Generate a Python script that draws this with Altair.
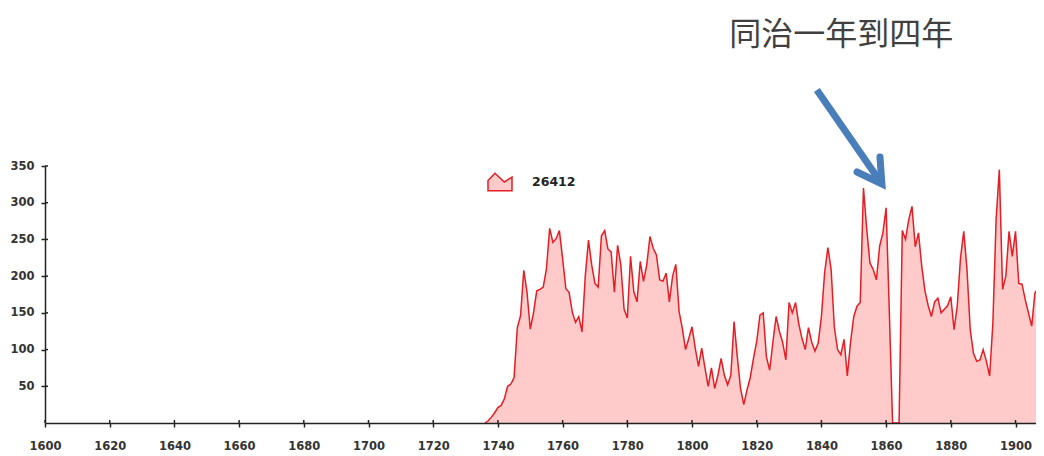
import altair as alt
import pandas as pd

# ---- data ----
years = [
    1736, 1737, 1738, 1739, 1740, 1741, 1742, 1743, 1744, 1745,
    1746, 1747, 1748, 1749, 1750, 1751, 1752, 1753, 1754, 1755,
    1756, 1757, 1758, 1759, 1760, 1761, 1762, 1763, 1764, 1765,
    1766, 1767, 1768, 1769, 1770, 1771, 1772, 1773, 1774, 1775,
    1776, 1777, 1778, 1779, 1780, 1781, 1782, 1783, 1784, 1785,
    1786, 1787, 1788, 1789, 1790, 1791, 1792, 1793, 1794, 1795,
    1796, 1797, 1798, 1799, 1800, 1801, 1802, 1803, 1804, 1805,
    1806, 1807, 1808, 1809, 1810, 1811, 1812, 1813, 1814, 1815,
    1816, 1817, 1818, 1819, 1820, 1821, 1822, 1823, 1824, 1825,
    1826, 1827, 1828, 1829, 1830, 1831, 1832, 1833, 1834, 1835,
    1836, 1837, 1838, 1839, 1840, 1841, 1842, 1843, 1844, 1845,
    1846, 1847, 1848, 1849, 1850, 1851, 1852, 1853, 1854, 1855,
    1856, 1857, 1858, 1859, 1860, 1861, 1862, 1863, 1864, 1865,
    1866, 1867, 1868, 1869, 1870, 1871, 1872, 1873, 1874, 1875,
    1876, 1877, 1878, 1879, 1880, 1881, 1882, 1883, 1884, 1885,
    1886, 1887, 1888, 1889, 1890, 1891, 1892, 1893, 1894, 1895,
    1896, 1897, 1898, 1899, 1900, 1901, 1902, 1903, 1904, 1905,
    1906, 1907, 1908, 1909,
]
counts = [
    0, 3, 8, 14, 21, 24, 33, 50, 53, 62,
    130, 146, 208, 178, 128, 150, 180, 182, 185, 210,
    265, 246, 251, 262, 224, 183, 178, 151, 137, 145,
    124, 200, 249, 215, 190, 185, 255, 262, 237, 233,
    178, 242, 215, 155, 143, 227, 179, 165, 220, 193,
    215, 254, 238, 229, 195, 193, 204, 165, 200, 216,
    152, 129, 100, 115, 131, 102, 77, 102, 75, 50,
    75, 47, 65, 88, 65, 52, 65, 138, 90, 47,
    25, 45, 62, 88, 111, 147, 150, 90, 72, 110,
    145, 125, 110, 86, 164, 150, 164, 135, 115, 100,
    130, 110, 98, 109, 145, 205, 239, 209, 130, 100,
    93, 114, 64, 110, 145, 159, 164, 320, 264, 218,
    209, 195, 241, 259, 293, 150, 0, 0, 0, 262,
    250, 277, 295, 240, 259, 214, 180, 160, 145, 165,
    170, 150, 155, 160, 172, 127, 160, 225, 261, 209,
    127, 95, 84, 86, 100, 84, 64, 136, 277, 345,
    182, 200, 261, 227, 261, 190, 189, 168, 150, 132,
    177, 184, 214, 220,
]
series_name = "26412"

x_ticks = [1600, 1620, 1640, 1660, 1680, 1700, 1720, 1740, 1760, 1780,
           1800, 1820, 1840, 1860, 1880, 1900]
y_ticks = [50, 100, 150, 200, 250, 300, 350]

# annotation (text + arrow), in data units
note_text = ["同治一年到四年"]
note_year = [1846.1]
note_value = [528]
shaft_year = [1838.6, 1858.7]
shaft_value = [453.5, 325.5]
head_year = [1851.0, 1858.7, 1858.1]
head_value = [341.8, 325.5, 362.2]

# ---- styling ----
FILL = "#ffcaca"
RED = "#e31e24"
AXIS = "#222222"
LABEL = "#333333"
ARROW = "#4a7ebb"
FONT = "DejaVu Sans"
ICON = "M-1,0.73L-1,-0.12L-0.42,-0.73L0.36,0L1,-0.4L1,0.73Z"

df = pd.DataFrame({"year": years, "count": counts, "series": series_name})
xt = pd.DataFrame({"t": x_ticks})
yt = pd.DataFrame({"t": y_ticks})
note = pd.DataFrame({"year": note_year, "value": note_value, "label": note_text})
shaft = pd.DataFrame({"year": shaft_year, "value": shaft_value, "i": [0, 1]})
head = pd.DataFrame({"year": head_year, "value": head_value, "i": [0, 1, 2]})

xscale = alt.Scale(domain=[1600, 1906.33], nice=False, zero=False)
yscale = alt.Scale(domain=[0, 350], nice=False)

x_axis = alt.Axis(values=x_ticks, format="d", title=None, grid=False,
                  labelFont=FONT, labelFontWeight="bold", labelFontSize=11.5,
                  labelColor=LABEL, labelPadding=13, labelFlush=False,
                  domainColor=AXIS, domainWidth=1.5, tickColor=AXIS,
                  tickWidth=1.5, tickSize=4, zindex=1)
y_axis = alt.Axis(values=y_ticks, title=None, grid=False,
                  labelFont=FONT, labelFontWeight="bold", labelFontSize=11.5,
                  labelColor=LABEL, labelPadding=7, labelFlush=False,
                  domainColor=AXIS, domainWidth=1.5, tickColor=AXIS,
                  tickWidth=1.5, tickSize=4, zindex=1)

area = alt.Chart(df).mark_area(clip=True, opacity=1, interpolate="linear").encode(
    x=alt.X("year:Q", scale=xscale, axis=x_axis),
    y=alt.Y("count:Q", scale=yscale, axis=y_axis),
    fill=alt.Fill("series:N", scale=alt.Scale(range=[FILL]),
                  legend=alt.Legend(title=None, orient="none", legendX=442,
                                    legendY=3, symbolType=ICON, symbolSize=576,
                                    symbolStrokeColor=RED, symbolStrokeWidth=1.5,
                                    symbolOpacity=1, labelFont=FONT,
                                    labelFontSize=12.5, labelFontWeight="bold",
                                    labelColor="#222222", labelOffset=19)),
)

line = alt.Chart(df).mark_line(clip=True, color=RED, strokeWidth=1.5).encode(
    x=alt.X("year:Q", scale=xscale),
    y=alt.Y("count:Q", scale=yscale),
)

# inward halves of the axis ticks
xin = alt.Chart(xt).mark_rule(color=AXIS, strokeWidth=1.5, y2Offset=-3).encode(
    x=alt.X("t:Q", scale=xscale), y=alt.datum(0), y2=alt.datum(0)
)
yin = alt.Chart(yt).mark_rule(color=AXIS, strokeWidth=1.5, x2Offset=3).encode(
    y=alt.Y("t:Q", scale=yscale), x=alt.datum(1600), x2=alt.datum(1600)
)

text = alt.Chart(note).mark_text(font="Noto Sans CJK SC", fontSize=32,
                                 color="#404040", align="center",
                                 baseline="middle").encode(
    x=alt.X("year:Q", scale=xscale), y=alt.Y("value:Q", scale=yscale),
    text="label:N",
)
arrow_shaft = alt.Chart(shaft).mark_line(color=ARROW, strokeWidth=7,
                                         strokeCap="butt").encode(
    x=alt.X("year:Q", scale=xscale), y=alt.Y("value:Q", scale=yscale),
    order="i:Q",
)
arrow_head = alt.Chart(head).mark_line(color=ARROW, strokeWidth=7,
                                       strokeCap="round",
                                       strokeJoin="miter").encode(
    x=alt.X("year:Q", scale=xscale), y=alt.Y("value:Q", scale=yscale),
    order="i:Q",
)

chart = alt.layer(area, line, xin, yin, arrow_shaft, arrow_head, text).properties(
    width=991, height=257,
    padding={"left": 37, "top": 158, "right": 0, "bottom": 28},
    autosize=alt.AutoSizeParams(type="none"),
    background="white",
).configure_view(stroke=None)

chart.save("out.html", embed_options={"renderer": "svg", "actions": False})
